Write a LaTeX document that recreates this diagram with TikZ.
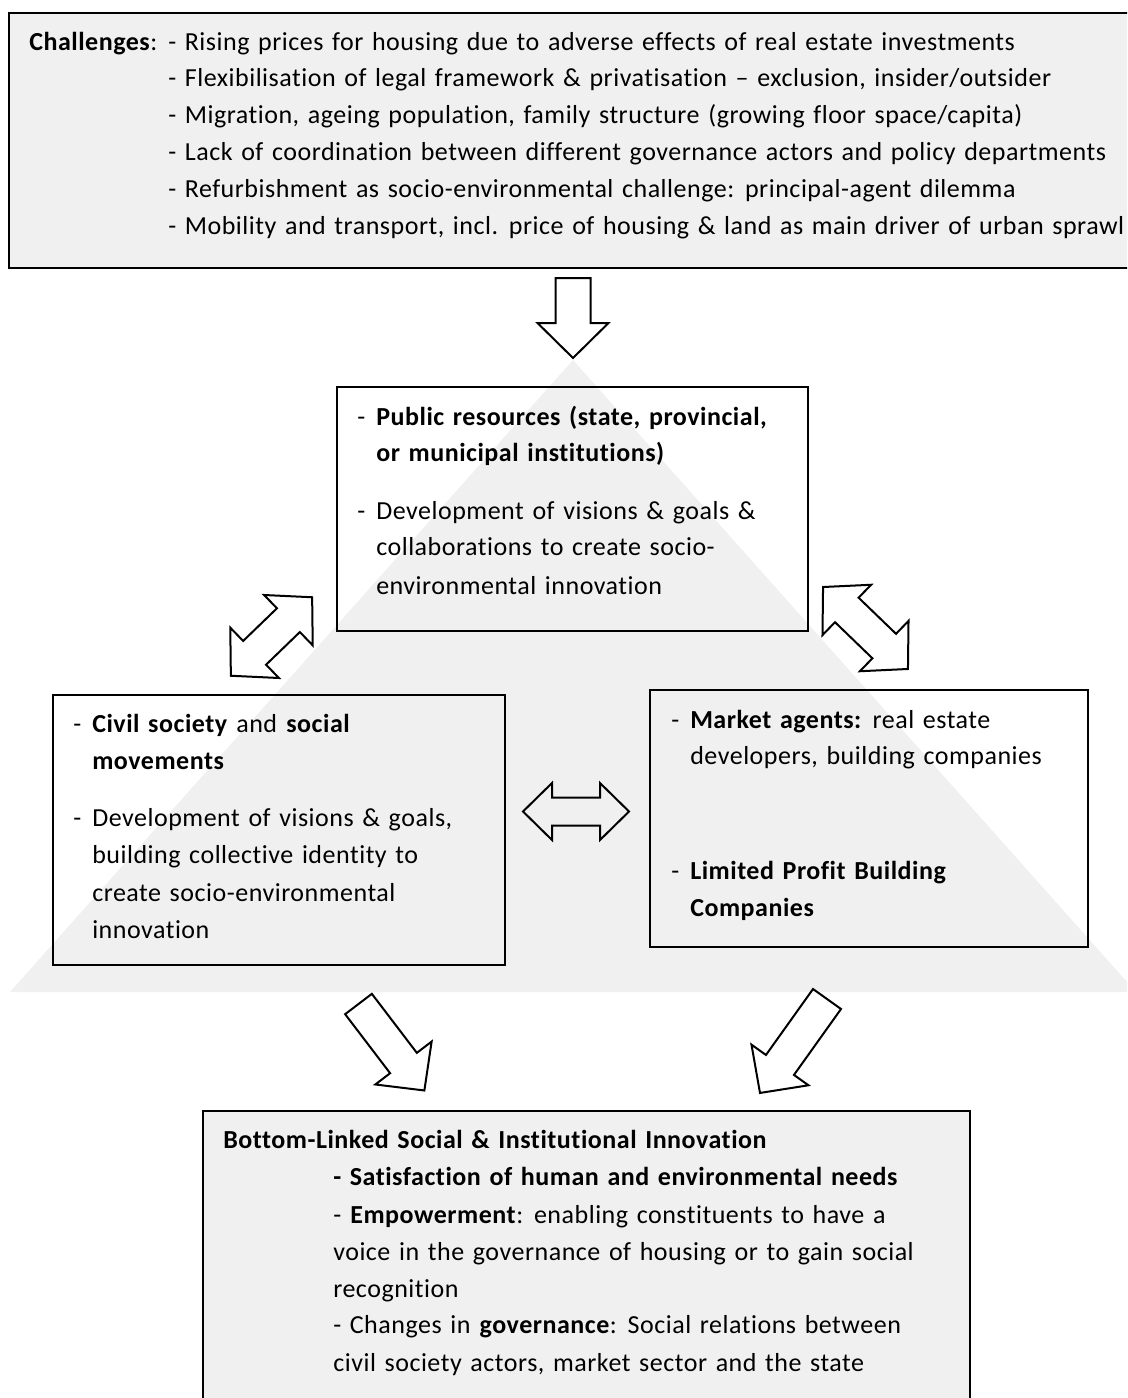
\documentclass[tikz,border=0pt]{standalone}
\usepackage{fontspec}
\setmainfont{Carlito}[LetterSpace=2,WordSpace=1.35,Ligatures=NoCommon]
\definecolor{bg}{HTML}{F0F0F0}
\newcommand\fs{\fontsize{19.5}{22}\selectfont}
\newcommand\mydbl[6]{%
\draw[blk,shift={#1},rotate=#2] (-#3,0) -- ({-#3+#6},#5) -- ({-#3+#6},#4) -- ({#3-#6},#4) -- ({#3-#6},#5) -- (#3,0) -- ({#3-#6},-#5) -- ({#3-#6},-#4) -- ({-#3+#6},-#4) -- ({-#3+#6},-#5) -- cycle;}
\newcommand\mysgl[6]{%
\draw[blk,shift={#1},rotate=#2] (0,-#4) -- ({#3-#6},-#4) -- ({#3-#6},-#5) -- (#3,0) -- ({#3-#6},#5) -- ({#3-#6},#4) -- (0,#4) -- cycle;}
\begin{document}
\begin{tikzpicture}[x=0.75pt,y=-0.75pt,
  boxg/.style={draw=black,fill=bg,line width=1.5pt},
  boxo/.style={draw=black,line width=1.5pt},
  blk/.style={draw=black,line width=1.5pt,line join=miter},
  txt/.style={anchor=base west,inner sep=0pt,font=\fs}]
\useasboundingbox (0,0) rectangle (1127,1398);
\clip (0,0) rectangle (1127,1398);
% top box
\draw[boxg] (9,13) rectangle (1140,268);
% background triangle
\fill[bg] (573,360) -- (1136,992) -- (10,992) -- cycle;
% middle boxes
\draw[boxo] (337,387) rectangle (808,631);
\draw[boxo] (53,695) rectangle (505,965);
\draw[boxo] (650,690) rectangle (1088,947);
% bottom box
\draw[boxg] (203,1111) rectangle (970,1410);
% arrows
\mysgl{(573,278)}{-90}{80}{17.5}{35.5}{35}
\mysgl{(358.5,1004)}{-52.7}{108.7}{16.8}{35.4}{34.5}
\mysgl{(827,999)}{-125.5}{115.4}{17.2}{35}{34.4}
\mydbl{(271.5,636.5)}{44}{56.5}{16.5}{35}{33}
\mydbl{(865.5,628)}{-44}{59}{17}{35}{33}
\mydbl{(576,811.5)}{0}{53}{14}{28.5}{29}
% top text
\node[txt] (c0) at (29,51) {\textbf{Challenges}:};
\node[txt] (c1) at (168,51) {- Rising prices for housing due to adverse effects of real estate investments};
\node[txt] (c2) at (168,87) {- Flexibilisation of legal framework \& privatisation -- exclusion, insider/outsider};
\node[txt] (c3) at (168,124) {- Migration, ageing population, family structure (growing floor space/capita)};
\node[txt] (c4) at (168,161) {- Lack of coordination between different governance actors and policy departments};
\node[txt] (c5) at (168,198) {- Refurbishment as socio-environmental challenge: principal-agent dilemma};
\node[txt] (c6) at (168,235) {- Mobility and transport, incl. price of housing \& land as main driver of urban sprawl};
% public box
\node[txt] (p0) at (357,425) {-};
\node[txt] (p1) at (376,425) {\textbf{Public resources (state, provincial,}};
\node[txt] (p2) at (376,461) {\textbf{or municipal institutions)}};
\node[txt] (p3) at (357,519) {-};
\node[txt] (p4) at (376,519) {Development of visions \& goals \&};
\node[txt] (p5) at (376,555) {collaborations to create socio-};
\node[txt] (p6) at (376,594) {environmental innovation};
% left box
\node[txt] (l0) at (73,732) {-};
\node[txt] (l1) at (92,732) {\textbf{Civil society} and \textbf{social}};
\node[txt] (l2) at (92,769) {\textbf{movements}};
\node[txt] (l3) at (73,826) {-};
\node[txt] (l4) at (92,826) {Development of visions \& goals,};
\node[txt] (l5) at (92,863) {building collective identity to};
\node[txt] (l6) at (92,901) {create socio-environmental};
\node[txt] (l7) at (92,938) {innovation};
% right box
\node[txt] (r0) at (671,728) {-};
\node[txt] (r1) at (690,728) {\textbf{Market agents:} real estate};
\node[txt] (r2) at (690,764) {developers, building companies};
\node[txt] (r3) at (671,879) {-};
\node[txt] (r4) at (690,879) {\textbf{Limited Profit Building}};
\node[txt] (r5) at (690,916) {\textbf{Companies}};
% bottom box
\node[txt] (b0) at (223,1148) {\textbf{Bottom-Linked Social \& Institutional Innovation}};
\node[txt] (b1) at (333,1185) {\textbf{- Satisfaction of human and environmental needs}};
\node[txt] (b2) at (333,1223) {- \textbf{Empowerment}: enabling constituents to have a};
\node[txt] (b3) at (333,1260) {voice in the governance of housing or to gain social};
\node[txt] (b4) at (333,1297) {recognition};
\node[txt] (b5) at (333,1333) {- Changes in \textbf{governance}: Social relations between};
\node[txt] (b6) at (333,1371) {civil society actors, market sector and the state};
\end{tikzpicture}
\end{document}
